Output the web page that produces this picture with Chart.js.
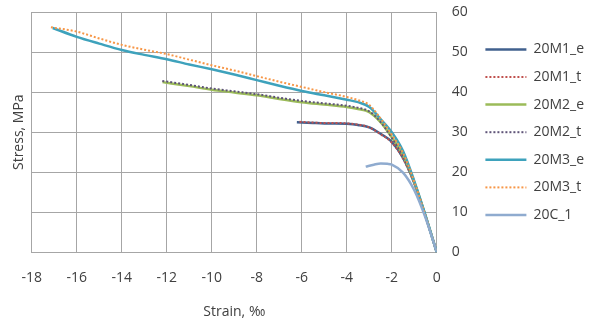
<!DOCTYPE html>
<html>
<head>
<meta charset="utf-8">
<script src="https://cdn.jsdelivr.net/npm/chart.js@4"></script>
<style>
  body { margin: 0; background: #fff; }
</style>
</head>
<body>
<canvas id="stressChart" width="597" height="322"></canvas>
<script>
// strain (‰) and stress (MPa)
const m1eX = [-6.22, -5.5, -5, -4.5, -4, -3.5, -3, -2.5, -2, -1.5, -1, -0.5, 0];
const m1eY = [32.5, 32.3, 32.2, 32.2, 32.1, 31.8, 31.2, 29.6, 27.6, 23.6, 17.3, 9.0, 0];

const m1tX = [-6.1, -5.5, -5, -4.5, -4, -3.5, -3, -2.5, -2, -1.5, -1, -0.5, 0];
const m1tY = [32.6, 32.4, 32.3, 32.3, 32.2, 31.9, 31.2, 29.5, 27.4, 23.4, 17.2, 9.0, 0];

const m2eX = [-12.19, -11, -10, -9, -8, -7, -6, -5, -4, -3.5, -3, -2.5, -2, -1.5, -1, -0.5, 0];
const m2eY = [42.5, 41.5, 40.6, 39.9, 39.2, 38.3, 37.5, 36.9, 36.3, 35.8, 35.0, 32.5, 28.7, 24.2, 17.5, 9.1, 0];

const m2tX = [-12.2, -11, -10, -9, -8, -7, -6, -5, -4, -3.5, -3, -2.5, -2, -1.5, -1, -0.5, 0];
const m2tY = [42.8, 41.8, 40.9, 40.2, 39.5, 38.6, 37.8, 37.2, 36.6, 36.1, 35.2, 32.6, 28.6, 24.0, 17.4, 9.0, 0];

const m3eX = [-17.07, -16, -15, -14, -13, -12, -11, -10, -9, -8, -7, -6, -5, -4, -3.5, -3, -2.5, -2, -1.5, -1, -0.5, 0];
const m3eY = [56.0, 53.8, 52.1, 50.5, 49.3, 48.2, 46.9, 45.7, 44.4, 43.0, 41.6, 40.3, 39.2, 38.1, 37.5, 36.3, 33.3, 30.0, 25.3, 17.8, 9.2, 0];

const m3tX = [-17.15, -16, -15, -14, -13, -12, -11, -10, -9, -8, -7, -6, -5, -4, -3.5, -3, -2.5, -2, -1.5, -1, -0.5, 0];
const m3tY = [56.2, 55.1, 53.4, 51.8, 50.6, 49.5, 48.1, 46.7, 45.4, 44.0, 42.6, 41.3, 40.0, 38.8, 38.0, 36.8, 33.4, 29.4, 24.8, 17.6, 9.1, 0];

const c1X = [-3.16, -2.8, -2.49, -2.2, -2, -1.5, -1, -0.5, 0];
const c1Y = [21.4, 21.9, 22.2, 22.1, 21.9, 19.9, 15.5, 8.6, 0];

const xTicks = [-18, 0, 2];   // min, max, step
const yTicks = [0, 60, 10];

const textColor = '#404040';
const gridColor = '#a6a6a6';
const font = { family: 'Open Sans', size: 14 };

function pts(xs, ys) {
  return xs.map((x, i) => ({ x: x, y: ys[i] }));
}

function series(label, xs, ys, color, dotted, i) {
  return {
    label: label,
    data: pts(xs, ys),
    borderColor: color,
    backgroundColor: color,
    borderWidth: dotted ? 2 : 2.5,
    borderDash: dotted ? [2, 2] : [],
    pointRadius: 0,
    cubicInterpolationMode: 'monotone',
    fill: false,
    yAxisID: 'y',
    order: 10 - i
  };
}

const ctx = document.getElementById('stressChart').getContext('2d');

new Chart(ctx, {
  type: 'line',
  data: {
    datasets: [
      series('20M1_e', m1eX, m1eY, '#41608e', false, 0),
      series('20M1_t', m1tX, m1tY, '#c0504d', true, 1),
      series('20M2_e', m2eX, m2eY, '#9bbb59', false, 2),
      series('20M2_t', m2tX, m2tY, '#5f5478', true, 3),
      series('20M3_e', m3eX, m3eY, '#3ea2bc', false, 4),
      series('20M3_t', m3tX, m3tY, '#f79646', true, 5),
      series('20C_1', c1X, c1Y, '#8fabcf', false, 6)
    ]
  },
  options: {
    responsive: false,
    animation: false,
    layout: {
      padding: { left: 3, top: 12, right: 3, bottom: 2 }
    },
    plugins: {
      tooltip: { enabled: false },
      legend: {
        position: 'right',
        align: 'center',
        fullSize: false,
        maxWidth: 126,
        labels: {
          usePointStyle: true,
          pointStyle: 'line',
          pointStyleWidth: 41,
          padding: 13.6,
          color: textColor,
          font: font,
          sort: (a, b) => a.datasetIndex - b.datasetIndex,
          generateLabels: (chart) => {
            const items = Chart.defaults.plugins.legend.labels.generateLabels(chart);
            items.forEach((it) => {
              const ds = chart.data.datasets[it.datasetIndex];
              it.lineDash = ds.borderDash;
              it.lineWidth = ds.borderWidth;
              it.strokeStyle = ds.borderColor;
            });
            return items;
          }
        }
      }
    },
    scales: {
      x: {
        type: 'linear',
        min: xTicks[0],
        max: xTicks[1],
        ticks: { stepSize: xTicks[2], color: textColor, font: font, padding: 17 },
        grid: { color: gridColor, drawTicks: false },
        border: { color: gridColor },
        title: {
          display: true,
          text: 'Strain, ‰',
          color: textColor,
          font: font,
          padding: { top: 0, bottom: 0 }
        }
      },
      y: {
        type: 'linear',
        position: 'right',
        min: yTicks[0],
        max: yTicks[1],
        ticks: { stepSize: yTicks[2], color: textColor, font: font, padding: 15 },
        grid: { color: gridColor, drawTicks: false },
        border: { color: gridColor },
        afterFit: (scale) => {
          scale.width = 35;
          scale.paddingTop = 0;
          scale.paddingBottom = 0;
        }
      },
      yTitle: {
        type: 'linear',
        position: 'left',
        ticks: { display: false },
        grid: { display: false, drawTicks: false },
        border: { display: false },
        title: {
          display: true,
          text: 'Stress, MPa',
          color: textColor,
          font: font,
          padding: { top: 8, bottom: 4 }
        }
      }
    }
  }
});
</script>
</body>
</html>
